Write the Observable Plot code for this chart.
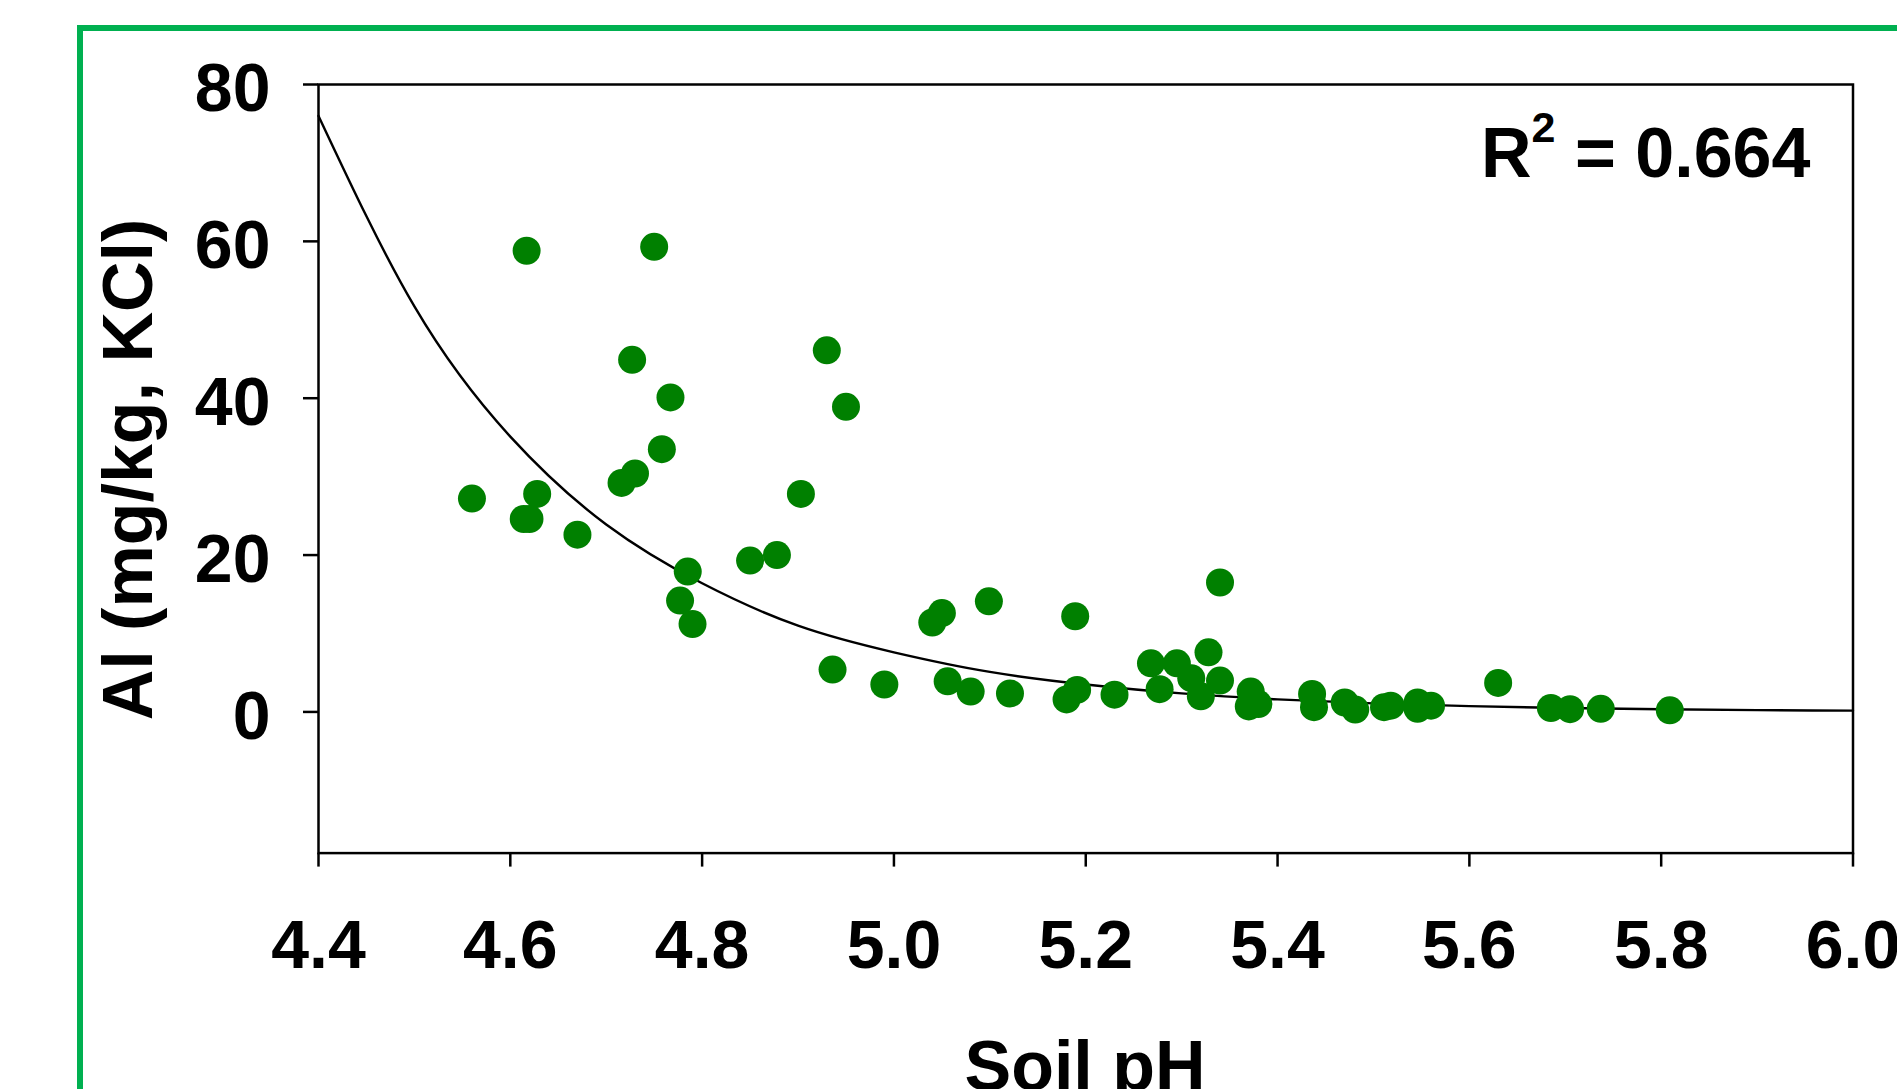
<!DOCTYPE html>
<html><head><meta charset="utf-8">
<script src="https://cdn.jsdelivr.net/npm/d3@7"></script>
<script src="https://cdn.jsdelivr.net/npm/@observablehq/plot@0.6"></script>
<style>
html,body{margin:0;padding:0;background:#fff;overflow:hidden;}
#wrap{position:relative;width:1897px;height:1089px;overflow:hidden;background:#fff;}
#border{position:absolute;left:77px;top:25px;width:3000px;height:3000px;border:6px solid #00B050;box-sizing:border-box;}
#chart{position:absolute;left:0;top:0;}
</style></head><body>
<div id="wrap"><div id="border"></div><div id="chart"></div></div>
<script>
// Soil pH (x) and Al (mg/kg, KCl) (y) for each sample
const phValues = [4.560,4.614,4.620,4.617,4.628,4.670,4.716,4.727,4.730,4.750,4.758,4.767,4.777,4.785,4.790,
  4.850,4.878,4.903,4.930,4.936,4.950,4.990,5.040,5.050,5.056,5.080,5.099,5.121,5.180,5.189,5.191,5.230,
  5.268,5.277,5.295,5.310,5.320,5.328,5.340,5.340,5.370,5.372,5.380,5.436,5.438,5.470,5.481,5.511,5.518,
  5.546,5.546,5.560,5.630,5.685,5.705,5.737,5.809];
const alValues = [27.2,24.6,24.6,58.8,27.8,22.6,29.2,44.9,30.4,59.3,33.5,40.1,14.2,17.9,11.2,
  19.3,20.0,27.8,46.1,5.4,38.9,3.5,11.4,12.6,3.9,2.6,14.1,2.35,1.6,12.2,2.8,2.2,
  6.2,2.9,6.2,4.3,2.0,7.6,16.5,4.0,0.7,2.6,1.0,2.3,0.6,1.2,0.3,0.6,0.8,
  1.2,0.4,0.8,3.7,0.5,0.35,0.4,0.2];
// fitted curve
const fitPh = [4.4,4.5,4.6,4.7,4.8,4.9,5.0,5.1,5.2,5.3,5.4,5.5,5.6,5.7,5.8,5.9,6.0];
const fitAl = [76.0,51.7,35.1,23.9,16.4,11.0,7.6,5.1,3.5,2.36,1.6,1.09,0.74,0.5,0.34,0.23,0.16];
const xTicks = [4.4,4.6,4.8,5.0,5.2,5.4,5.6,5.8,6.0];
const yTicks = [0,20,40,60,80];
const xTitle = "Soil pH";
const yTitle = "Al (mg/kg, KCl)";
const r2Label = "0.664";

const points = phValues.map((x, i) => ({x, y: alValues[i]}));
const fit = fitPh.map((x, i) => ({x, y: fitAl[i]}));
const FONT = "'Liberation Sans', Arial, Helvetica, sans-serif";

const plot = Plot.plot({
  width: 1897, height: 1089,
  marginLeft: 318, marginRight: 44.5, marginTop: 84, marginBottom: 236.4,
  style: {background: "transparent", fontFamily: FONT, overflow: "visible"},
  x: {domain: [4.4, 6.0]},
  y: {domain: [-18, 80]},
  marks: [
    Plot.axisX({ticks: xTicks, tickFormat: d => d.toFixed(1), tickSize: 14, tickPadding: 53,
      fontSize: 68, fontWeight: "bold", strokeWidth: 2.5, label: null, fill: "black"}),
    Plot.axisY({ticks: yTicks, tickSize: 15, tickFormat: () => "", strokeWidth: 2.5, label: null}),
    Plot.axisY({ticks: yTicks, tickSize: 0, tickPadding: 48, dy: 5, fontSize: 68, fontWeight: "bold",
      label: null, fill: "black"}),
    Plot.line(fit, {x: "x", y: "y", curve: "natural", stroke: "black", strokeWidth: 2.4}),
    Plot.dot(points, {x: "x", y: "y", r: 14, fill: "#008000"}),
    Plot.frame({stroke: "black", strokeWidth: 2.5})
  ]
});
document.getElementById("chart").appendChild(plot);

const svg = d3.select(plot);
svg.append("text")
  .attr("transform", "translate(151.8,469.5) rotate(-90)")
  .attr("text-anchor", "middle").attr("font-size", 70).attr("font-weight", "bold")
  .attr("font-family", FONT).attr("fill", "black").text(yTitle);
svg.append("text")
  .attr("x", 1085).attr("y", 1090).attr("text-anchor", "middle")
  .attr("font-size", 70).attr("font-weight", "bold")
  .attr("font-family", FONT).attr("fill", "black").text(xTitle);
const r2 = svg.append("text")
  .attr("x", 1481).attr("y", 176.7).attr("text-anchor", "start")
  .attr("font-size", 70).attr("font-weight", "bold")
  .attr("font-family", FONT).attr("fill", "black").style("white-space", "pre");
r2.append("tspan").text("R");
r2.append("tspan").attr("font-size", 43).attr("dy", -35).text("2");
r2.append("tspan").attr("dy", 35).text(" = " + r2Label);
</script>
</body></html>
